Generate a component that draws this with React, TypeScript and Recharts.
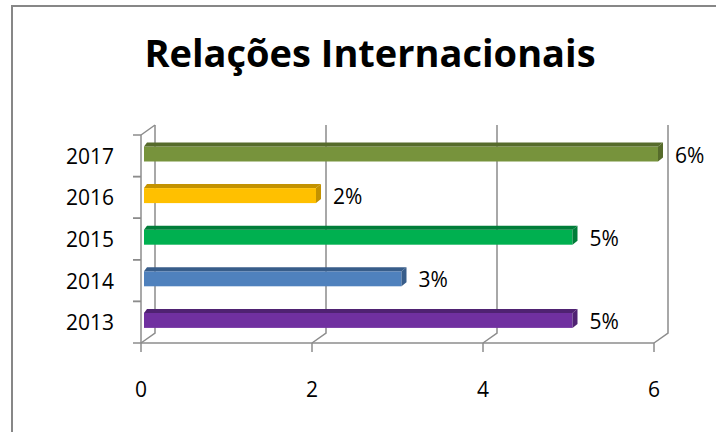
import { BarChart, Bar, XAxis, YAxis, CartesianGrid, Cell, LabelList } from 'recharts';

const years = ['2013', '2014', '2015', '2016', '2017'];
const shares = [5, 3, 5, 2, 6];
const xTicks = [0, 2, 4, 6];

const FRONT = ['#7030A0', '#4F81BD', '#00B050', '#FFC000', '#77933C'];
const SIDE = ['#4F2272', '#385D8A', '#007D39', '#C39200', '#566B2B'];
const GRID = '#8C8C8C';
const FONT = '"Open Sans", Lato, sans-serif';

const data = years.map((year, i) => ({ year, share: shares[i] }));

// fake 3D bar: front face, slanted top, dark right side
function Bar3D(props: any) {
  const { x, y, width, height, index } = props;
  const top = y - 3.5;
  const h = height;
  const L = x + 3;
  const R = x + width + 4;
  const d = 5;
  const t = 4;
  return (
    <g>
      <rect x={L} y={top + t} width={R - L} height={h - t} fill={FRONT[index]} />
      <polygon points={`${L},${top + t} ${L + 3},${top} ${R + d},${top} ${R},${top + t}`} fill={SIDE[index]} />
      <polygon points={`${R},${top + t} ${R + d},${top} ${R + d},${top + h - t} ${R},${top + h}`} fill={SIDE[index]} />
    </g>
  );
}

function GridLine(props: any) {
  const { x1, y1, y2, index } = props;
  return (
    <g>
      <polyline points={`${x1},${y2} ${x1 + 14},${y2 - 10} ${x1 + 14},${y1 - 10}`} fill="none" stroke={GRID} strokeWidth={1.5} />
      {index === 0 && <line x1={x1} y1={y1} x2={x1 + 14} y2={y1 - 10} stroke={GRID} strokeWidth={1.5} />}
    </g>
  );
}

function YearTick(props: any) {
  const { x, y, payload } = props;
  const half = payload.offset || 20.8;
  const ax = x + 8;
  return (
    <g>
      <line x1={ax - 8} y1={y - half} x2={ax} y2={y - half} stroke={GRID} strokeWidth={1.5} />
      <line x1={ax - 8} y1={y + half} x2={ax} y2={y + half} stroke={GRID} strokeWidth={1.5} />
      <text x={ax - 27} y={y} textAnchor="end" dominantBaseline="central" fontSize={21} fontFamily={FONT} fill="#000">
        {payload.value}
      </text>
    </g>
  );
}

function ShareLabel(props: any) {
  const { x, y, width, height, value } = props;
  return (
    <text x={x + width + 21} y={y + height / 2 - 1} dominantBaseline="central" fontSize={21} fontFamily={FONT} fill="#000">
      {value}%
    </text>
  );
}

export default function App() {
  return (
    <div style={{ position: 'absolute', left: 0, top: 0, width: 716, height: 432, overflow: 'hidden', background: '#fff' }}>
      <div style={{ position: 'absolute', left: 11, top: 5, width: 800, height: 600, borderLeft: '2px solid #878787', borderTop: '2px solid #878787' }} />
      <div style={{ position: 'absolute', left: 70, width: 600, top: 28, textAlign: 'center', fontFamily: FONT, fontWeight: 700, fontSize: 38, lineHeight: '48px', color: '#000', whiteSpace: 'nowrap' }}>
        Relações Internacionais
      </div>
      <div style={{ position: 'absolute', left: 0, top: 0 }}>
        <BarChart width={716} height={432} data={data} layout="vertical" margin={{ top: 135, right: 62, bottom: 49, left: 81 }} barSize={19}>
          <CartesianGrid horizontal={false} vertical={(p: any) => <GridLine key={p.key} {...p} />} />
          <XAxis type="number" domain={[0, 6]} ticks={xTicks} height={40} stroke={GRID} strokeWidth={1.5} tickSize={9} tickMargin={30}
            tick={{ fill: '#000', fontSize: 21, fontFamily: FONT }} interval={0} />
          <YAxis type="category" dataKey="year" reversed width={60} stroke={GRID} strokeWidth={1.5} tickLine={false} tick={<YearTick />} interval={0} />
          <Bar dataKey="share" isAnimationActive={false} shape={<Bar3D />}>
            {data.map((d, i) => <Cell key={d.year} fill={FRONT[i]} />)}
            <LabelList dataKey="share" content={<ShareLabel />} />
          </Bar>
        </BarChart>
      </div>
    </div>
  );
}
